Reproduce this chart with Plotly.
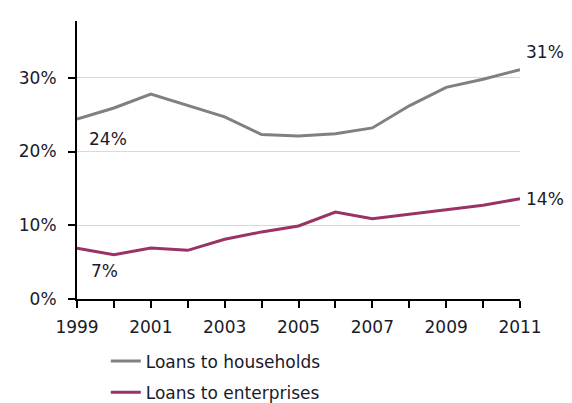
import plotly.graph_objects as go

years = list(range(1999, 2012))
households = [24.4, 25.9, 27.8, 26.3, 24.7, 22.3, 22.1, 22.4, 23.2, 26.2, 28.7, 29.8, 31.1]
enterprises = [6.9, 6.0, 6.9, 6.6, 8.1, 9.1, 9.9, 11.8, 10.9, 11.5, 12.1, 12.7, 13.6]
series_names = ["Loans to households", "Loans to enterprises"]
colors = ["#808080", "#993366"]
ytick_vals = [0, 10, 20, 30]
ytick_text = ["0%", "10%", "20%", "30%"]

FONT = "DejaVu Sans"
TXT = "#1a1a2a"

fig = go.Figure()
for i, (name, vals) in enumerate(zip(series_names, [households, enterprises])):
    fig.add_trace(go.Scatter(x=years, y=vals, mode="lines", name=name,
                             line=dict(color=colors[i], width=3),
                             legendgroup=name, hoverinfo="skip"))

# data labels
labels = [
    (years[0], households[0], f"{round(households[0])}%", 31, -20),
    (years[0], enterprises[0], f"{round(enterprises[0])}%", 27, -23),
    (years[-1], households[-1], f"{round(households[-1])}%", 25, 18),
    (years[-1], enterprises[-1], f"{round(enterprises[-1])}%", 25, 0),
]
for x, y, t, xs, ys in labels:
    fig.add_annotation(x=x, y=y, text=t, showarrow=False, xshift=xs, yshift=ys,
                       font=dict(family=FONT, size=17, color=TXT))

fig.update_layout(
    width=572, height=403,
    margin=dict(l=69, r=60, t=13, b=112, autoexpand=False),
    paper_bgcolor="white", plot_bgcolor="white",
    font=dict(family=FONT, size=17, color=TXT),
    showlegend=True,
    legend=dict(x=0.065, y=-0.16, xanchor="left", yanchor="top",
                font=dict(family=FONT, size=17, color=TXT),
                tracegroupgap=6, bgcolor="rgba(0,0,0,0)"),
)
fig.update_xaxes(range=[1999, 2011], tickmode="linear", tick0=1999, dtick=2,
                 ticks="outside", ticklen=7, tickcolor="black", tickwidth=1.5,
                 ticklabelstandoff=5,
                 showline=True, linecolor="black", linewidth=2,
                 showgrid=False, zeroline=False,
                 minor=dict(dtick=1, tick0=1999, ticks="outside", ticklen=7,
                            tickcolor="black", tickwidth=1.5, showgrid=False),
                 tickfont=dict(family=FONT, size=17, color=TXT))
fig.update_yaxes(range=[0, 37.7], tickvals=ytick_vals, ticktext=ytick_text,
                 ticks="outside", ticklen=7, tickcolor="black", tickwidth=1.5,
                 ticklabelstandoff=8,
                 showline=True, linecolor="black", linewidth=2,
                 showgrid=True, gridcolor="#d9d9d9", gridwidth=1, zeroline=False,
                 tickfont=dict(family=FONT, size=17, color=TXT))

fig.write_html("out.html")
